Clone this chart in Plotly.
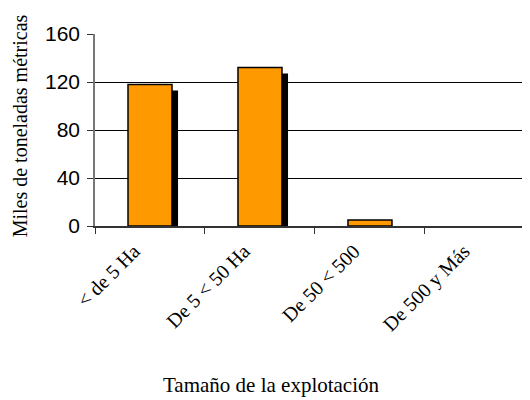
import plotly.graph_objects as go

# Datos
categorias = ["< de 5 Ha", "De 5 < 50 Ha", "De 50 < 500", "De 500 y Más"]
toneladas = [118, 132, 5, 0]

# sombra: un poco más baja y desplazada a la derecha
sombra = [max(v - 5, 0) for v in toneladas]
bordes = [1.5 if v > 0 else 0 for v in toneladas]

serif = "Liberation Serif, Times New Roman, serif"
sans = "Liberation Sans, Arial, sans-serif"

shadow = go.Bar(x=categorias, y=sombra, width=0.4, offset=-0.145,
                marker=dict(color="black", line=dict(width=0)),
                hoverinfo="skip", showlegend=False)
bars = go.Bar(x=categorias, y=toneladas, width=0.4, offset=-0.2,
              marker=dict(color="#FF9900", line=dict(color="black", width=bordes)),
              showlegend=False)

# la página añade ~8 px de margen, por eso la figura es algo menor
layout = go.Layout(
    width=522, height=392,
    margin=dict(l=87, r=0, t=26, b=174),
    paper_bgcolor="white", plot_bgcolor="white",
    barmode="overlay",
    xaxis=dict(
        range=[-0.5, 3.455], tickangle=-45, ticks="outside", ticklen=6,
        tickson="boundaries", tickcolor="#333", showgrid=False,
        showline=True, linecolor="#333", linewidth=1.5, automargin=False,
        ticklabelshift=-16, ticklabelstandoff=4,
        tickfont=dict(family=serif, size=20, color="black"),
    ),
    yaxis=dict(
        range=[0, 160], tickvals=[0, 40, 80, 120, 160], ticks="outside",
        ticklen=6, tickcolor="#333", showgrid=True, gridcolor="black",
        gridwidth=1, showline=True, linecolor="#777", linewidth=1.5,
        zeroline=False, automargin=False, ticklabelstandoff=3,
        tickfont=dict(family=sans, size=21, color="black"),
    ),
    annotations=[
        dict(text="Tamaño de la explotación", xref="paper", yref="paper",
             x=0.405, y=-0.828, showarrow=False, xanchor="center", yanchor="middle",
             font=dict(family=serif, size=21, color="black")),
        dict(text="Miles de toneladas métricas", xref="paper", yref="paper",
             x=-0.172, y=0.52, showarrow=False, textangle=-90,
             xanchor="center", yanchor="middle",
             font=dict(family=serif, size=20, color="black")),
    ],
)

fig = go.Figure(data=[shadow, bars], layout=layout)
fig.write_html("out.html")
